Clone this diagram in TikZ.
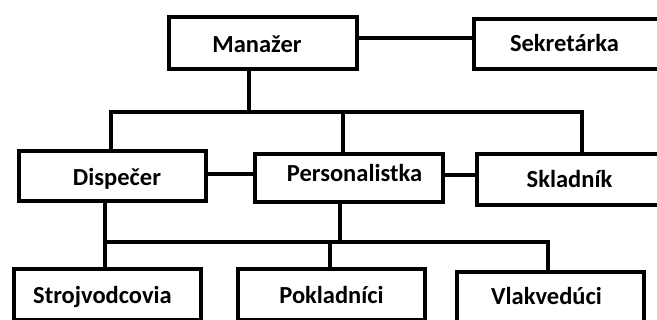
\documentclass[tikz,border=0pt]{standalone}
\usepackage{fontspec}
\setmainfont{Carlito}
\usetikzlibrary{calc}
\begin{document}
\begin{tikzpicture}[x=1pt,y=-1pt,
  box/.style={draw, line width=3.8pt, minimum width=187pt, minimum height=51pt, inner sep=0pt},
  conn/.style={line width=3.8pt},
  lbl/.style={font=\bfseries\fontsize{24.5}{29}\selectfont, anchor=base, inner sep=0pt}]
\useasboundingbox (0,0) rectangle (657,320);
\fill[white] (0,0) rectangle (657,320);
\clip (0,0) rectangle (657,320);
% boxes
\node[box, minimum width=188pt, minimum height=52pt] (man) at (263,43) {};
\node[box, minimum height=50pt] (sek) at (567.5,44) {};
\node[box, minimum height=50pt] (dis) at (112.5,176) {};
\node[box, minimum width=188pt, minimum height=48pt] (per) at (349,178) {};
\node[box] (skl) at (570.5,179.5) {};
\node[box] (str) at (107.5,294.5) {};
\node[box] (pok) at (331.5,294.5) {};
\node[box] (vla) at (550.5,297.5) {};
% texts (baseline positions)
\node[lbl] (manT) at ($(man.center)+(-6,10)$) {Manažer};
\node[lbl] (sekT) at ($(sek.center)+(-3,8)$) {Sekretárka};
\node[lbl] (disT) at ($(dis.center)+(4.5,10)$) {Dispečer};
\node[lbl] (perT) at ($(per.center)+(5.5,4)$) {Personalistka};
\node[lbl] (sklT) at ($(skl.center)+(-1,8.5)$) {Skladník};
\node[lbl] (strT) at ($(str.center)+(-5,9.5)$) {Strojvodcovia};
\node[lbl] (pokT) at ($(pok.center)+(0,9.5)$) {Pokladníci};
\node[lbl] (vlaT) at ($(vla.center)+(-4,7.5)$) {Vlakvedúci};
% side connectors
\draw[conn] (man.east |- 0,38) -- (sek.west |- 0,38);
\draw[conn] (dis.east |- 0,174) -- (per.west |- 0,174);
\draw[conn] (per.east |- 0,175) -- (skl.west |- 0,175);
% upper tree
\coordinate (t0) at (249,112);
\coordinate (b1) at (111,112);
\coordinate (b3) at (343,112);
\coordinate (b2) at (582,112);
\draw[conn] (t0 |- man.south) -- (t0);
\draw[conn, line cap=rect] (b1) -- (b2);
\draw[conn] (b1) -- (b1 |- dis.north);
\draw[conn] (b3) -- (b3 |- per.north);
\draw[conn] (b2) -- (b2 |- skl.north);
% lower tree
\coordinate (c1) at (105,242);
\coordinate (c2) at (340,242);
\coordinate (c3) at (330,242);
\coordinate (c4) at (548,242);
\draw[conn, line cap=rect] (c1) -- (c4);
\draw[conn] (c1 |- dis.south) -- (c1);
\draw[conn] (c1) -- (c1 |- str.north);
\draw[conn] (c2 |- per.south) -- (c2);
\draw[conn] (c3) -- (c3 |- pok.north);
\draw[conn] (c4) -- (c4 |- vla.north);
\end{tikzpicture}
\end{document}
